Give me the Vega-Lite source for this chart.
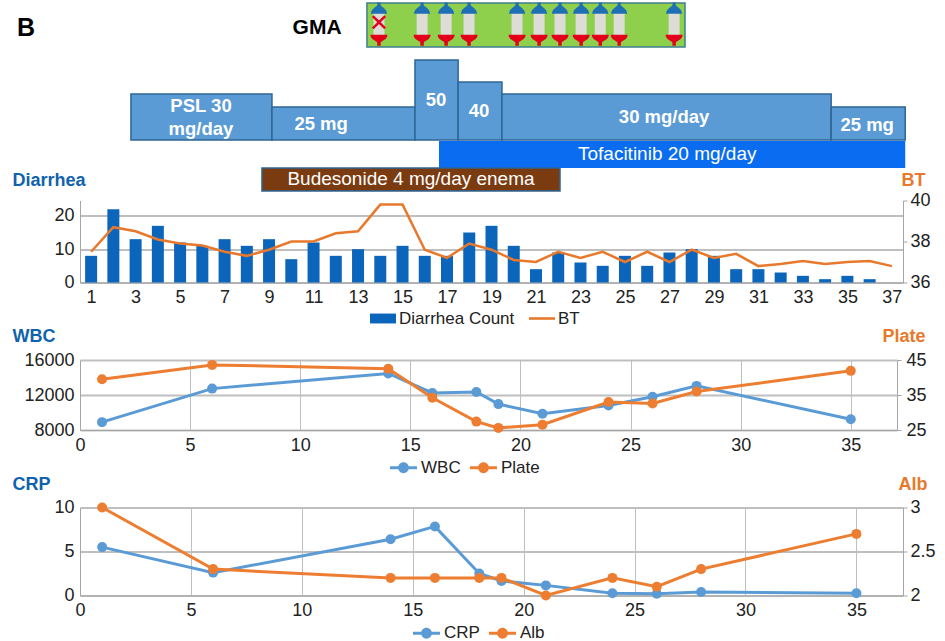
{"$schema":"https://vega.github.io/schema/vega-lite/v6.json","padding":{"left":12,"top":2,"right":5,"bottom":0},"bounds":"flush","spacing":77.5,"resolve":{"scale":{"color":"independent"},"legend":{"color":"independent"}},"config":{"view":{"stroke":null},"font":"Liberation Sans","axis":{"labelFont":"Liberation Sans","labelFontSize":18,"labelColor":"#222222","domainColor":"#a6a6a6","tickColor":"#a6a6a6","titleFont":"Liberation Sans"},"legend":{"labelFont":"Liberation Sans"}},
"datasets":{
"steroid":[{"label":"PSL 30 mg/day","start":2.79,"end":9.13,"low":51,"high":97},{"label":"25 mg","start":9.13,"end":15.56,"low":51,"high":84},{"label":"50","start":15.56,"end":17.5,"low":51,"high":131},{"label":"40","start":17.5,"end":19.47,"low":51,"high":109},{"label":"30 mg/day","start":19.47,"end":34.27,"low":51,"high":97},{"label":"25 mg","start":34.27,"end":37.6,"low":51,"high":84}],
"steroidText":[{"text":"PSL 30\nmg/day","day":5.94,"level":85},{"text":"25 mg","day":11.34,"level":67},{"text":"50","day":16.51,"level":91},{"text":"40","day":18.44,"level":80},{"text":"30 mg/day","day":26.76,"level":74},{"text":"25 mg","day":35.89,"level":66}],
"gma":[{"day":13.94,"failed":true},{"day":15.88},{"day":16.96},{"day":17.99},{"day":20.15},{"day":21.14},{"day":22.08},{"day":23.03},{"day":23.89},{"day":24.74},{"day":27.21}],
"diarrhea":[{"day":1,"series":"Diarrhea Count","value":8},{"day":2,"series":"Diarrhea Count","value":22},{"day":3,"series":"Diarrhea Count","value":13},{"day":4,"series":"Diarrhea Count","value":17},{"day":5,"series":"Diarrhea Count","value":12},{"day":6,"series":"Diarrhea Count","value":11},{"day":7,"series":"Diarrhea Count","value":13},{"day":8,"series":"Diarrhea Count","value":11},{"day":9,"series":"Diarrhea Count","value":13},{"day":10,"series":"Diarrhea Count","value":7},{"day":11,"series":"Diarrhea Count","value":12},{"day":12,"series":"Diarrhea Count","value":8},{"day":13,"series":"Diarrhea Count","value":10},{"day":14,"series":"Diarrhea Count","value":8},{"day":15,"series":"Diarrhea Count","value":11},{"day":16,"series":"Diarrhea Count","value":8},{"day":17,"series":"Diarrhea Count","value":8},{"day":18,"series":"Diarrhea Count","value":15},{"day":19,"series":"Diarrhea Count","value":17},{"day":20,"series":"Diarrhea Count","value":11},{"day":21,"series":"Diarrhea Count","value":4},{"day":22,"series":"Diarrhea Count","value":9},{"day":23,"series":"Diarrhea Count","value":6},{"day":24,"series":"Diarrhea Count","value":5},{"day":25,"series":"Diarrhea Count","value":8},{"day":26,"series":"Diarrhea Count","value":5},{"day":27,"series":"Diarrhea Count","value":9},{"day":28,"series":"Diarrhea Count","value":10},{"day":29,"series":"Diarrhea Count","value":8},{"day":30,"series":"Diarrhea Count","value":4},{"day":31,"series":"Diarrhea Count","value":4},{"day":32,"series":"Diarrhea Count","value":3},{"day":33,"series":"Diarrhea Count","value":2},{"day":34,"series":"Diarrhea Count","value":1},{"day":35,"series":"Diarrhea Count","value":2},{"day":36,"series":"Diarrhea Count","value":1},
{"day":1,"series":"BT","value":37.5},{"day":2,"series":"BT","value":38.7},{"day":3,"series":"BT","value":38.5},{"day":4,"series":"BT","value":38.1},{"day":5,"series":"BT","value":37.9},{"day":6,"series":"BT","value":37.8},{"day":7,"series":"BT","value":37.5},{"day":8,"series":"BT","value":37.3},{"day":9,"series":"BT","value":37.6},{"day":10,"series":"BT","value":38},{"day":11,"series":"BT","value":38},{"day":12,"series":"BT","value":38.4},{"day":13,"series":"BT","value":38.5},{"day":14,"series":"BT","value":39.8},{"day":15,"series":"BT","value":39.8},{"day":16,"series":"BT","value":37.6},{"day":17,"series":"BT","value":37.2},{"day":18,"series":"BT","value":37.9},{"day":19,"series":"BT","value":37.6},{"day":20,"series":"BT","value":37.1},{"day":21,"series":"BT","value":37},{"day":22,"series":"BT","value":37.5},{"day":23,"series":"BT","value":37.2},{"day":24,"series":"BT","value":37.5},{"day":25,"series":"BT","value":37},{"day":26,"series":"BT","value":37.5},{"day":27,"series":"BT","value":37},{"day":28,"series":"BT","value":37.6},{"day":29,"series":"BT","value":37.2},{"day":30,"series":"BT","value":37.4},{"day":31,"series":"BT","value":36.8},{"day":32,"series":"BT","value":36.9},{"day":33,"series":"BT","value":37.05},{"day":34,"series":"BT","value":36.9},{"day":35,"series":"BT","value":37},{"day":36,"series":"BT","value":37.05},{"day":37,"series":"BT","value":36.8}],
"wbc":[{"day":1,"series":"WBC","value":8900},{"day":6,"series":"WBC","value":12730},{"day":14,"series":"WBC","value":14460},{"day":16,"series":"WBC","value":12230},{"day":18,"series":"WBC","value":12350},{"day":19,"series":"WBC","value":10960},{"day":21,"series":"WBC","value":9850},{"day":24,"series":"WBC","value":10800},{"day":26,"series":"WBC","value":11800},{"day":28,"series":"WBC","value":13040},{"day":35,"series":"WBC","value":9230},
{"day":1,"series":"Plate","value":39.5},{"day":6,"series":"Plate","value":43.6},{"day":14,"series":"Plate","value":42.5},{"day":16,"series":"Plate","value":34.2},{"day":18,"series":"Plate","value":27.4},{"day":19,"series":"Plate","value":25.6},{"day":21,"series":"Plate","value":26.5},{"day":24,"series":"Plate","value":33},{"day":26,"series":"Plate","value":32.6},{"day":28,"series":"Plate","value":36},{"day":35,"series":"Plate","value":41.9}],
"crp":[{"day":1,"series":"CRP","value":5.5},{"day":6,"series":"CRP","value":2.6},{"day":14,"series":"CRP","value":6.4},{"day":16,"series":"CRP","value":7.85},{"day":18,"series":"CRP","value":2.5},{"day":19,"series":"CRP","value":1.65},{"day":21,"series":"CRP","value":1.15},{"day":24,"series":"CRP","value":0.25},{"day":26,"series":"CRP","value":0.2},{"day":28,"series":"CRP","value":0.4},{"day":35,"series":"CRP","value":0.25},
{"day":1,"series":"Alb","value":3},{"day":6,"series":"Alb","value":2.3},{"day":14,"series":"Alb","value":2.2},{"day":16,"series":"Alb","value":2.2},{"day":18,"series":"Alb","value":2.2},{"day":19,"series":"Alb","value":2.2},{"day":21,"series":"Alb","value":2},{"day":24,"series":"Alb","value":2.2},{"day":26,"series":"Alb","value":2.1},{"day":28,"series":"Alb","value":2.3},{"day":35,"series":"Alb","value":2.7}]
},
"vconcat":[
{"width":823,"height":119.5,
"layer":[
{"data":{"values":[{"start":13.4,"end":27.7,"low":144,"high":188}]},"mark":{"type":"rect","fill":"#8ed04b","stroke":"#3f7f8f","strokeWidth":1.5},"encoding":{"x":{"field":"start","type":"quantitative","scale":{"domain":[0.5,37.5],"nice":false,"zero":false},"axis":null},"x2":{"field":"end"},"y":{"field":"low","type":"quantitative","scale":{"domain":[68.5,188],"nice":false,"zero":false},"axis":null},"y2":{"field":"high"}}},
{"data":{"name":"gma"},"mark":{"type":"rule","color":"#dddcd6","strokeWidth":11},"encoding":{"x":{"field":"day","type":"quantitative"},"y":{"datum":178,"type":"quantitative"},"y2":{"datum":155}}},
{"data":{"name":"gma"},"mark":{"type":"point","filled":true,"shape":"M-1,0.6C-1,-0.1 -0.3,-0.2 -0.2,-0.5V-0.8H0.2V-0.5C0.3,-0.2 1,-0.1 1,0.6Z","color":"#1f6fb5","opacity":1,"size":256},"encoding":{"x":{"field":"day","type":"quantitative"},"y":{"datum":182,"type":"quantitative"}}},
{"data":{"name":"gma"},"mark":{"type":"point","filled":true,"shape":"M-1,-0.5H1C1,0.1 0.3,0.2 0.2,0.4V0.8H-0.2V0.4C-0.3,0.2 -1,0.1 -1,-0.5Z","color":"#e3001b","opacity":1,"size":289},"encoding":{"x":{"field":"day","type":"quantitative"},"y":{"datum":152,"type":"quantitative"}}},
{"data":{"name":"gma"},"transform":[{"filter":"datum.failed"}],"mark":{"type":"text","text":"✕","color":"#e3001b","fontSize":24,"fontWeight":"bold","font":"DejaVu Sans"},"encoding":{"x":{"field":"day","type":"quantitative"},"y":{"datum":167,"type":"quantitative"}}},
{"data":{"name":"steroid"},"mark":{"type":"rect","fill":"#5b9bd5","stroke":"#2f6595","strokeWidth":1.5},"encoding":{"x":{"field":"start","type":"quantitative"},"x2":{"field":"end"},"y":{"field":"low","type":"quantitative"},"y2":{"field":"high"}}},
{"data":{"values":[{"label":"Tofacitinib 20 mg/day","start":16.64,"end":37.6,"low":23,"high":50}]},"mark":{"type":"rect","fill":"#0a6cf0"},"encoding":{"x":{"field":"start","type":"quantitative"},"x2":{"field":"end"},"y":{"field":"low","type":"quantitative"},"y2":{"field":"high"}}},
{"data":{"values":[{"label":"Budesonide 4 mg/day enema","start":8.68,"end":22.08,"low":0,"high":23}]},"mark":{"type":"rect","fill":"#7a3b10","stroke":"#2f6595","strokeWidth":1.5},"encoding":{"x":{"field":"start","type":"quantitative"},"x2":{"field":"end"},"y":{"field":"low","type":"quantitative"},"y2":{"field":"high"}}},
{"data":{"name":"steroidText"},"mark":{"type":"text","color":"white","fontWeight":"bold","fontSize":18.5,"lineBreak":"\n","lineHeight":23},"encoding":{"x":{"field":"day","type":"quantitative"},"y":{"field":"level","type":"quantitative"},"text":{"field":"text"}}},
{"data":{"values":[{"text":"Tofacitinib 20 mg/day","day":26.9,"level":37},{"text":"Budesonide 4 mg/day enema","day":15.38,"level":12}]},"mark":{"type":"text","color":"white","fontSize":19},"encoding":{"x":{"field":"day","type":"quantitative"},"y":{"field":"level","type":"quantitative"},"text":{"field":"text"}}},
{"data":{"values":[{"text":"GMA","day":11.16,"level":163,"size":21},{"text":"B","day":-1.93,"level":163,"size":25}]},"mark":{"type":"text","color":"black","fontWeight":"bold"},"encoding":{"x":{"field":"day","type":"quantitative"},"y":{"field":"level","type":"quantitative"},"text":{"field":"text"},"size":{"field":"size","type":"quantitative","scale":null,"legend":null}}}
]},
{"width":823,"height":82,"data":{"name":"diarrhea"},"resolve":{"scale":{"y":"independent"}},
"layer":[
{"transform":[{"filter":"datum.series=='Diarrhea Count'"}],"mark":{"type":"bar","size":12,"color":"#0b65bb"},"encoding":{"x":{"field":"day","type":"quantitative","scale":{"domain":[0.5,37.5],"nice":false,"zero":false,"padding":0},"axis":{"values":[1,3,5,7,9,11,13,15,17,19,21,23,25,27,29,31,33,35,37],"format":"d","title":null,"grid":false,"ticks":false,"labelPadding":6,"labelFlush":false}},"y":{"field":"value","type":"quantitative","scale":{"domain":[0,24.6],"nice":false},"axis":{"values":[0,10,20],"format":"d","grid":true,"gridColor":"#bfbfbf","gridWidth":2,"ticks":false,"labelPadding":6,"title":"Diarrhea","titleAngle":0,"titleX":-68,"titleY":-20,"titleAlign":"left","titleBaseline":"middle","titleColor":"#0f62ad","titleFontSize":18,"titleFontWeight":"bold"}}}},
{"transform":[{"filter":"datum.series=='BT'"}],"mark":{"type":"line","color":"#e8792c","strokeWidth":2.5},"encoding":{"x":{"field":"day","type":"quantitative"},"y":{"field":"value","type":"quantitative","scale":{"domain":[36,40],"nice":false,"zero":false},"axis":{"orient":"right","values":[36,38,40],"format":"d","grid":false,"tickSize":4,"labelPadding":3,"title":"BT","titleAngle":0,"titleX":-2,"titleY":-20,"titleAlign":"left","titleBaseline":"middle","titleColor":"#e8792c","titleFontSize":18,"titleFontWeight":"bold"}}}},
{"mark":{"type":"point","filled":true,"opacity":0},"encoding":{"x":{"field":"day","type":"quantitative"},
"color":{"field":"series","type":"nominal","scale":{"domain":["Diarrhea Count","BT"],"range":["#0b65bb","#e8792c"]},"legend":{"title":null,"orient":"none","direction":"horizontal","legendX":289,"legendY":104,"symbolSize":676,"symbolOpacity":1,"labelFontSize":17,"labelColor":"#222222","columnPadding":13,"labelOffset":2,"encode":{"symbols":{"update":{"shape":{"signal":"datum.value=='BT' ? 'M-1,-0.1H1V0.1H-1Z' : 'M-1,-0.38H1V0.38H-1Z'"}}}}}}}}
]},
{"width":817,"height":70,"data":{"name":"wbc"},"resolve":{"scale":{"y":"independent"}},
"layer":[
{"layer":[{"mark":{"type":"line","color":"#5b9bd5","strokeWidth":3}},{"mark":{"type":"point","filled":true,"size":100,"color":"#5b9bd5","opacity":1}}],"transform":[{"filter":"datum.series=='WBC'"}],"encoding":{"x":{"field":"day","type":"quantitative","scale":{"domain":[0,37.1],"nice":false},"axis":{"values":[0,5,10,15,20,25,30,35],"title":null,"grid":true,"gridColor":"#bfbfbf","gridWidth":1,"ticks":false,"labelPadding":6,"labelFlush":false}},"y":{"field":"value","type":"quantitative","scale":{"domain":[8000,16000],"nice":false,"zero":false},"axis":{"values":[8000,12000,16000],"format":"d","grid":true,"gridColor":"#bfbfbf","gridWidth":2,"ticks":false,"labelPadding":6,"title":"WBC","titleAngle":0,"titleX":-68,"titleY":-24,"titleAlign":"left","titleBaseline":"middle","titleColor":"#0f62ad","titleFontSize":18,"titleFontWeight":"bold"}}}},
{"layer":[{"mark":{"type":"line","color":"#ed7d31","strokeWidth":3}},{"mark":{"type":"point","filled":true,"size":100,"color":"#ed7d31","opacity":1}}],"transform":[{"filter":"datum.series=='Plate'"}],"encoding":{"x":{"field":"day","type":"quantitative"},"y":{"field":"value","type":"quantitative","scale":{"domain":[25,45],"nice":false,"zero":false},"axis":{"orient":"right","values":[25,35,45],"format":"d","grid":false,"tickSize":4,"labelPadding":5,"title":"Plate","titleAngle":0,"titleX":-15,"titleY":-24,"titleAlign":"left","titleBaseline":"middle","titleColor":"#e8792c","titleFontSize":18,"titleFontWeight":"bold"}}}},
{"mark":{"type":"point","filled":true,"opacity":0},"encoding":{"x":{"field":"day","type":"quantitative"},"color":{"field":"series","type":"nominal","scale":{"domain":["WBC","Plate"],"range":["#5b9bd5","#ed7d31"]},"legend":{"title":null,"orient":"none","direction":"horizontal","legendX":309,"legendY":93,"symbolSize":729,"symbolOpacity":1,"symbolType":"M-1,-0.11H1V0.11H-1ZM0.4,0A0.4,0.4 0 1 1 -0.4,0A0.4,0.4 0 1 1 0.4,0Z","labelFontSize":17,"labelColor":"#222222","columnPadding":8,"labelOffset":3}}}}
]},
{"width":823,"height":88,"data":{"name":"crp"},"resolve":{"scale":{"y":"independent"}},
"layer":[
{"layer":[{"mark":{"type":"line","color":"#5b9bd5","strokeWidth":3}},{"mark":{"type":"point","filled":true,"size":100,"color":"#5b9bd5","opacity":1}}],"transform":[{"filter":"datum.series=='CRP'"}],"encoding":{"x":{"field":"day","type":"quantitative","scale":{"domain":[0,37.1],"nice":false},"axis":{"values":[0,5,10,15,20,25,30,35],"title":null,"grid":true,"gridColor":"#bfbfbf","gridWidth":1,"ticks":false,"labelPadding":6,"labelFlush":false}},"y":{"field":"value","type":"quantitative","scale":{"domain":[0,10],"nice":false},"axis":{"values":[0,5,10],"format":"d","grid":true,"gridColor":"#bfbfbf","gridWidth":2,"ticks":false,"labelPadding":6,"title":"CRP","titleAngle":0,"titleX":-68,"titleY":-23,"titleAlign":"left","titleBaseline":"middle","titleColor":"#0f62ad","titleFontSize":18,"titleFontWeight":"bold"}}}},
{"layer":[{"mark":{"type":"line","color":"#ed7d31","strokeWidth":3}},{"mark":{"type":"point","filled":true,"size":100,"color":"#ed7d31","opacity":1}}],"transform":[{"filter":"datum.series=='Alb'"}],"encoding":{"x":{"field":"day","type":"quantitative"},"y":{"field":"value","type":"quantitative","scale":{"domain":[2,3],"nice":false,"zero":false},"axis":{"orient":"right","values":[2,2.5,3],"format":"~g","grid":false,"tickSize":4,"labelPadding":3,"title":"Alb","titleAngle":0,"titleX":-5,"titleY":-23,"titleAlign":"left","titleBaseline":"middle","titleColor":"#e8792c","titleFontSize":18,"titleFontWeight":"bold"}}}},
{"mark":{"type":"point","filled":true,"opacity":0},"encoding":{"x":{"field":"day","type":"quantitative"},"color":{"field":"series","type":"nominal","scale":{"domain":["CRP","Alb"],"range":["#5b9bd5","#ed7d31"]},"legend":{"title":null,"orient":"none","direction":"horizontal","legendX":332,"legendY":111,"symbolSize":729,"symbolOpacity":1,"symbolType":"M-1,-0.11H1V0.11H-1ZM0.4,0A0.4,0.4 0 1 1 -0.4,0A0.4,0.4 0 1 1 0.4,0Z","labelFontSize":17,"labelColor":"#222222","columnPadding":8,"labelOffset":3}}}}
]}
]}
